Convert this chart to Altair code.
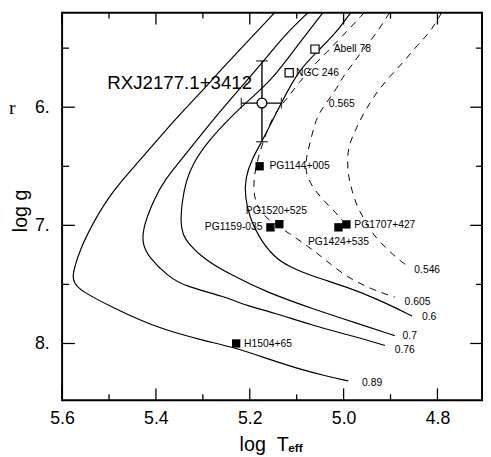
import altair as alt
import pandas as pd

# ---------------- data ----------------
TRACK_MASSES = ["0.89", "0.76", "0.7", "0.6", "0.605", "0.565", "0.546"]
TRACK_DASHED = [False, False, False, False, True, True, True]

T_089 = [5.147, 5.254, 5.304, 5.359, 5.430, 5.493, 5.535, 5.562, 5.575, 5.577, 5.575, 5.562, 5.499, 5.395, 5.290, 5.233, 5.153, 5.101, 5.038, 4.990]
G_089 = [5.20, 5.65, 5.875, 6.10, 6.433, 6.708, 6.983, 7.208, 7.375, 7.433, 7.483, 7.55, 7.683, 7.875, 7.983, 8.033, 8.142, 8.208, 8.275, 8.317]

T_076 = [5.076, 5.122, 5.153, 5.206, 5.265, 5.332, 5.384, 5.405, 5.426, 5.430, 5.416, 5.374, 5.338, 5.254, 5.206, 5.153, 5.065, 4.975, 4.912]
G_076 = [5.20, 5.375, 5.525, 5.775, 6.042, 6.375, 6.625, 6.792, 7.0, 7.15, 7.267, 7.433, 7.517, 7.60, 7.683, 7.733, 7.85, 7.942, 8.017]

T_070 = [5.044, 5.101, 5.153, 5.195, 5.237, 5.290, 5.321, 5.336, 5.344, 5.348, 5.342, 5.332, 5.296, 5.241, 5.164, 5.065, 4.975, 4.891]
G_070 = [5.20, 5.492, 5.767, 5.917, 6.067, 6.292, 6.475, 6.625, 6.792, 6.983, 7.083, 7.15, 7.292, 7.417, 7.567, 7.708, 7.825, 7.933]

T_060 = [4.985, 5.017, 5.053, 5.095, 5.1325, 5.174, 5.195, 5.210, 5.210, 5.200, 5.181, 5.149, 5.116, 5.065, 4.996, 4.927, 4.854]
G_060 = [5.20, 5.375, 5.517, 5.683, 5.958, 6.292, 6.433, 6.60, 6.767, 6.933, 7.10, 7.267, 7.35, 7.433, 7.517, 7.625, 7.767]

T_0605 = [4.956, 5.003, 5.038, 5.065, 5.095, 5.122, 5.149, 5.168, 5.185, 5.193, 5.189, 5.1765, 5.153, 5.116, 5.074, 5.044, 4.996, 4.940, 4.891]
G_0605 = [5.20, 5.40, 5.542, 5.65, 5.792, 5.933, 6.058, 6.25, 6.458, 6.65, 6.792, 6.892, 6.975, 7.067, 7.183, 7.275, 7.433, 7.542, 7.608]

T_0565 = [4.902, 4.933, 4.961, 4.982, 5.003, 5.017, 5.044, 5.059, 5.070, 5.080, 5.082, 5.0675, 5.042, 5.017, 5.0025]
G_0565 = [5.20, 5.392, 5.525, 5.642, 5.75, 5.858, 6.0, 6.10, 6.275, 6.433, 6.542, 6.675, 6.792, 6.892, 6.958]

T_0546 = [4.791, 4.814, 4.843, 4.870, 4.898, 4.927, 4.954, 4.975, 4.990, 4.992, 4.990, 4.982, 4.971, 4.954, 4.940, 4.906, 4.877, 4.864]
G_0546 = [5.20, 5.358, 5.475, 5.608, 5.725, 5.858, 6.025, 6.192, 6.333, 6.458, 6.583, 6.708, 6.85, 6.958, 7.067, 7.208, 7.308, 7.342]

TRACKS_T = [T_089, T_076, T_070, T_060, T_0605, T_0565, T_0546]
TRACKS_G = [G_089, G_076, G_070, G_060, G_0605, G_0565, G_0546]

STAR_NAMES = ["Abell 78", "NGC 246", "PG1144+005", "PG1520+525", "PG1159-035",
              "PG1707+427", "PG1424+535", "H1504+65"]
STAR_LOGT = [5.061, 5.116, 5.179, 5.137, 5.156, 4.994, 5.011, 5.229]
STAR_LOGG = [5.508, 5.708, 6.50, 6.99, 7.017, 6.992, 7.017, 8.00]
STAR_FILLED = [False, False, True, True, True, True, True, True]

RX_NAME = "RXJ2177.1+3412"
RX_LOGT = 5.174
RX_LOGG = 5.965
RX_LOGT_RANGE = [5.218, 5.1325]
RX_LOGG_RANGE = [5.608, 6.292]

X_MAJOR = [5.6, 5.4, 5.2, 5.0, 4.8]
X_MINOR = [5.5, 5.3, 5.1, 4.9]
Y_MAJOR = [6, 7, 8]
Y_MINOR = [5.5, 6.5, 7.5]

# ---------------- label placement (styling) ----------------
STAR_LABEL_STYLE = {
    "Abell 78": ("left", 19, 0),
    "NGC 246": ("left", 7, 0),
    "PG1144+005": ("left", 10, 0),
    "PG1520+525": ("center", -3, -13),
    "PG1159-035": ("right", -8, 0),
    "PG1707+427": ("left", 8, 1),
    "PG1424+535": ("left", -31, 15),
    "H1504+65": ("left", 8, 1),
}
TRACK_LABEL_STYLE = {  # (index of anchor point, dx, dy)
    "0.89": (-1, 14, 2),
    "0.76": (-1, 10, 5),
    "0.7": (-1, 8, 0),
    "0.6": (-1, 10, 1),
    "0.605": (-1, 10, 5),
    "0.565": (6, 6, -3),
    "0.546": (-1, 7, 4),
}

W, H = 427, 394
SANS = "Liberation Sans, Arial, sans-serif"
SMALL = 10.5

xs = alt.Scale(domain=[5.6, 4.705], nice=False, zero=False)
ys = alt.Scale(domain=[5.2, 8.48], nice=False, zero=False, reverse=True)

X_AXIS = alt.Axis(values=X_MAJOR, format=".1f", grid=False, ticks=False, domain=False,
                  labelFontSize=18, labelFont=SANS, labelColor="black", labelPadding=10,
                  labelFlush=False, labelOverlap=False,
                  title="log\u00a0\u00a0T", titleFont=SANS, titleFontSize=20, titleFontWeight="normal",
                  titleColor="black", titleX=205, titleY=51, titleBaseline="alphabetic",
                  titleAlign="center")
Y_AXIS = alt.Axis(values=Y_MAJOR, labelExpr="datum.value + '.'", grid=False, ticks=False, domain=False,
                  labelFontSize=18, labelFont=SANS, labelColor="black", labelPadding=13,
                  labelFlush=False, labelOverlap=False,
                  title="log g", titleFont=SANS, titleFontSize=20, titleFontWeight="normal",
                  titleColor="black", titleX=-36, titleY=201, titleAngle=-90,
                  titleBaseline="alphabetic", titleAlign="center")


def X(field):
    return alt.X(field, scale=xs, axis=X_AXIS)


def Y(field):
    return alt.Y(field, scale=ys, axis=Y_AXIS)


# ---------------- tables ----------------
rows = []
for m, dsh, ts, gs in zip(TRACK_MASSES, TRACK_DASHED, TRACKS_T, TRACKS_G):
    for i, (t, g) in enumerate(zip(ts, gs)):
        rows.append({"mass": m, "dashed": "d" if dsh else "s", "i": i, "logT": t, "logg": g})
tracks = pd.DataFrame(rows)

tl_rows = []
for m, ts, gs in zip(TRACK_MASSES, TRACKS_T, TRACKS_G):
    idx, dx, dy = TRACK_LABEL_STYLE[m]
    tl_rows.append({"mass": m, "logT": ts[idx], "logg": gs[idx], "dx": dx, "dy": dy})

stars = pd.DataFrame({"name": STAR_NAMES, "logT": STAR_LOGT, "logg": STAR_LOGG, "filled": STAR_FILLED})

base_tracks = alt.Chart(tracks)
solid = base_tracks.transform_filter(alt.datum.dashed == "s").mark_line(
    color="black", strokeWidth=1.2, interpolate="basis", clip=True
).encode(x=X("logT:Q"), y=Y("logg:Q"), detail="mass:N", order="i:Q")
dashed = base_tracks.transform_filter(alt.datum.dashed == "d").mark_line(
    color="black", strokeWidth=1.0, strokeDash=[7, 6], interpolate="basis", clip=True
).encode(x=X("logT:Q"), y=Y("logg:Q"), detail="mass:N", order="i:Q")

track_label_layers = []
for r in tl_rows:
    track_label_layers.append(
        alt.Chart(pd.DataFrame([r])).mark_text(
            font=SANS, fontSize=SMALL, color="black", align="left", baseline="middle",
            dx=r["dx"], dy=r["dy"]
        ).encode(x=X("logT:Q"), y=Y("logg:Q"), text="mass:N")
    )


# ticks (inside, on all four sides)
def xticks(vals, length, top):
    return alt.Chart(pd.DataFrame({"t": vals})).mark_rule(color="black", strokeWidth=1.3).encode(
        x=X("t:Q"), y=alt.value(0 if top else H), y2=alt.value(length if top else H - length))


def yticks(vals, length, right):
    return alt.Chart(pd.DataFrame({"t": vals})).mark_rule(color="black", strokeWidth=1.3).encode(
        y=Y("t:Q"), x=alt.value(W if right else 0), x2=alt.value(W - length if right else length))


tick_layers = [
    xticks(X_MAJOR, 12, False), xticks(X_MINOR, 6, False),
    xticks(X_MAJOR, 12, True), xticks(X_MINOR, 6, True),
    yticks(Y_MAJOR, 13, False), yticks(Y_MINOR, 7, False),
    yticks(Y_MAJOR, 12, True), yticks(Y_MINOR, 6, True),
]

# stars
filled_sq = alt.Chart(stars).transform_filter(alt.datum.filled == True).mark_square(
    color="black", size=72, opacity=1
).encode(x=X("logT:Q"), y=Y("logg:Q"))
open_sq = alt.Chart(stars).transform_filter(alt.datum.filled == False).mark_point(
    shape="square", filled=True, fill="white", stroke="black", strokeWidth=1.2, size=70, opacity=1
).encode(x=X("logT:Q"), y=Y("logg:Q"))

star_label_layers = []
for n, t, g in zip(STAR_NAMES, STAR_LOGT, STAR_LOGG):
    al, dx, dy = STAR_LABEL_STYLE[n]
    star_label_layers.append(
        alt.Chart(pd.DataFrame({"name": [n], "logT": [t], "logg": [g]})).mark_text(
            font=SANS, fontSize=SMALL, color="black", align=al, baseline="middle", dx=dx, dy=dy
        ).encode(x=X("logT:Q"), y=Y("logg:Q"), text="name:N")
    )

# RX J object with error bars
rx = pd.DataFrame({"name": [RX_NAME], "logT": [RX_LOGT], "logg": [RX_LOGG],
                   "t1": [RX_LOGT_RANGE[0]], "t2": [RX_LOGT_RANGE[1]],
                   "g1": [RX_LOGG_RANGE[0]], "g2": [RX_LOGG_RANGE[1]]})
rx_base = alt.Chart(rx)
hbar = rx_base.mark_rule(color="black", strokeWidth=1.4).encode(x=X("t1:Q"), x2="t2:Q", y=Y("logg:Q"))
vbar = rx_base.mark_rule(color="black", strokeWidth=1.4).encode(y=Y("g1:Q"), y2="g2:Q", x=X("logT:Q"))
cap_l = rx_base.mark_tick(orient="vertical", color="black", size=11, thickness=1.4).encode(
    x=X("t1:Q"), y=Y("logg:Q"))
cap_r = rx_base.mark_tick(orient="vertical", color="black", size=11, thickness=1.4).encode(
    x=X("t2:Q"), y=Y("logg:Q"))
cap_t = rx_base.mark_tick(orient="horizontal", color="black", size=12, thickness=1.4).encode(
    x=X("logT:Q"), y=Y("g1:Q"))
cap_b = rx_base.mark_tick(orient="horizontal", color="black", size=12, thickness=1.4).encode(
    x=X("logT:Q"), y=Y("g2:Q"))
rx_pt = rx_base.mark_point(shape="circle", filled=True, fill="white", stroke="black",
                           strokeWidth=1.3, size=100, opacity=1).encode(x=X("logT:Q"), y=Y("logg:Q"))
rx_label = rx_base.mark_text(font=SANS, fontSize=19, color="black", align="right",
                             baseline="alphabetic", dx=-10, dy=-14).encode(
    x=X("logT:Q"), y=Y("logg:Q"), text="name:N")

# subscript of the x-axis title, and stray glyph at the left edge of the scan
sub = alt.Chart(pd.DataFrame({"s": ["eff"]})).mark_text(
    font=SANS, fontSize=12, fontWeight="bold", color="black", align="left", baseline="alphabetic"
).encode(x=alt.value(230), y=alt.value(447), text="s:N")
stray = alt.Chart(pd.DataFrame({"s": ["r"]})).mark_text(
    font="Liberation Serif, DejaVu Serif, serif", fontSize=20, color="black", align="left",
    baseline="alphabetic"
).encode(x=alt.value(-54), y=alt.value(103), text="s:N")

chart = alt.layer(
    solid, dashed, *tick_layers, hbar, vbar, cap_l, cap_r, cap_t, cap_b, rx_pt,
    filled_sq, open_sq, *star_label_layers, *track_label_layers, rx_label, sub, stray
).properties(
    width=W, height=H,
    autosize=alt.AutoSizeParams(type="none"),
    padding={"left": 55, "top": 1, "right": 1, "bottom": 55},
    background="white",
).configure_view(stroke="black", strokeWidth=2)

chart.save("out.html", embed_options={"renderer": "svg", "actions": False})
